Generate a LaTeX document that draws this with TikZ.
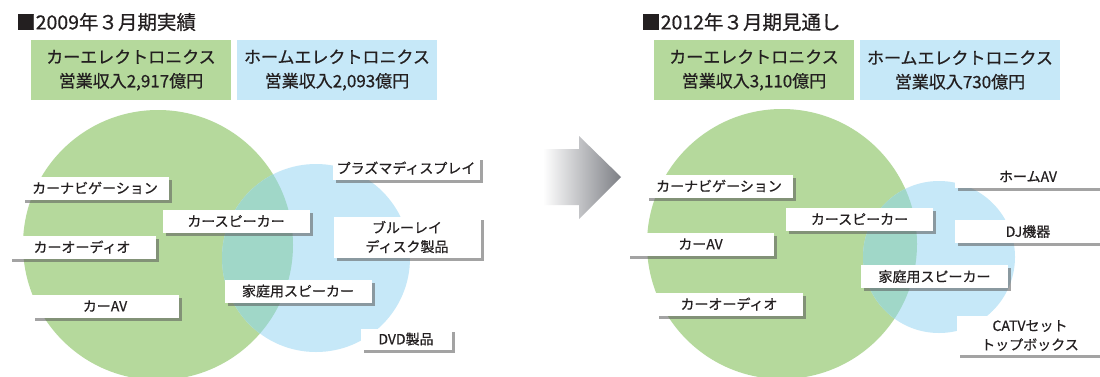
\documentclass[tikz,border=0pt]{standalone}
\usepackage{fontspec}
\setmainfont{Noto Sans CJK JP}[FakeBold=0.6]
\usetikzlibrary{shadows}
\definecolor{cargreen}{RGB}{181,217,156}
\definecolor{homeblue}{RGB}{198,232,248}
\definecolor{bothteal}{RGB}{160,215,200}
\definecolor{inkgray}{RGB}{35,31,32}
\definecolor{arrowgray}{RGB}{125,127,133}
\tikzset{
  heading/.style={anchor=west, text=inkgray, inner sep=0pt, font=\fontsize{19.5}{20}\selectfont},
  segbox/.style={minimum width=200pt, minimum height=60pt, inner sep=0pt, align=center,
    text=inkgray, font=\fontsize{17}{24}\selectfont},
  tag/.style={fill=white, minimum width=147pt, minimum height=23pt, inner sep=0pt, align=center,
    text=inkgray, font=\fontsize{14}{19}\selectfont,
    drop shadow={shadow xshift=3pt, shadow yshift=-3pt, fill=black!65, opacity=0.55}}
}
\begin{document}
\begin{tikzpicture}[x=1pt,y=-1pt]
\useasboundingbox (0,0) rectangle (1100,376);
\fill[white] (0,0) rectangle (1100,376);
\begin{scope}
  \fill[cargreen] (158,245) circle (135);
  \fill[homeblue] (316,258) circle (94);
  \clip (158,245) circle (135);
  \fill[bothteal] (316,258) circle (94);
\end{scope}
\begin{scope}
  \fill[cargreen] (782,244) circle (135);
  \fill[homeblue] (939,257) circle (76);
  \clip (782,244) circle (135);
  \fill[bothteal] (939,257) circle (76);
\end{scope}
\shade[left color=white, right color=arrowgray] (543,149) -- (579,149) -- (579,136) -- (621,177)
  -- (579,219) -- (579,205) -- (543,205) -- cycle;

\node[heading] (head09) at (16,22) {■2009年３月期実績};
\node[segbox, fill=cargreen] (car09) at (131,70) {カーエレクトロニクス\\営業収入2,917億円};
\node[segbox, fill=homeblue] (home09) at (337,70) {ホームエレクトロニクス\\営業収入2,093億円};
\node[tag] (plasma09) at (406,168) {プラズマディスプレイ};
\node[tag] (navi09) at (95,188) {カーナビゲーション};
\node[tag] (carspk09) at (236,221) {カースピーカー};
\node[tag, minimum height=41pt] (bluray09) at (407,237) {ブルーレイ\\ディスク製品};
\node[tag] (audio09) at (82,247) {カーオーディオ};
\node[tag] (homespk09) at (298,291) {家庭用スピーカー};
\node[tag] (carav09) at (105,306) {カーAV};
\node[tag, minimum width=91pt, minimum height=21pt] (dvd09) at (406,339) {DVD製品};

\node[heading] (head12) at (641,22) {■2012年３月期見通し};
\node[segbox, fill=cargreen] (car12) at (754,70) {カーエレクトロニクス\\営業収入3,110億円};
\node[segbox, fill=homeblue] (home12) at (960,70) {ホームエレクトロニクス\\営業収入730億円};
\node[tag] (homeav12) at (1028,176.5) {ホームAV};
\node[tag] (navi12) at (719,186) {カーナビゲーション};
\node[tag] (carspk12) at (859.5,219) {カースピーカー};
\node[tag] (dj12) at (1028,231.5) {DJ機器};
\node[tag] (carav12) at (700.5,244) {カーAV};
\node[tag] (homespk12) at (934.5,276.5) {家庭用スピーカー};
\node[tag] (audio12) at (729,304) {カーオーディオ};
\node[tag, minimum height=39pt] (catv12) at (1030,335.5) {CATVセット\\トップボックス};
\end{tikzpicture}
\end{document}
